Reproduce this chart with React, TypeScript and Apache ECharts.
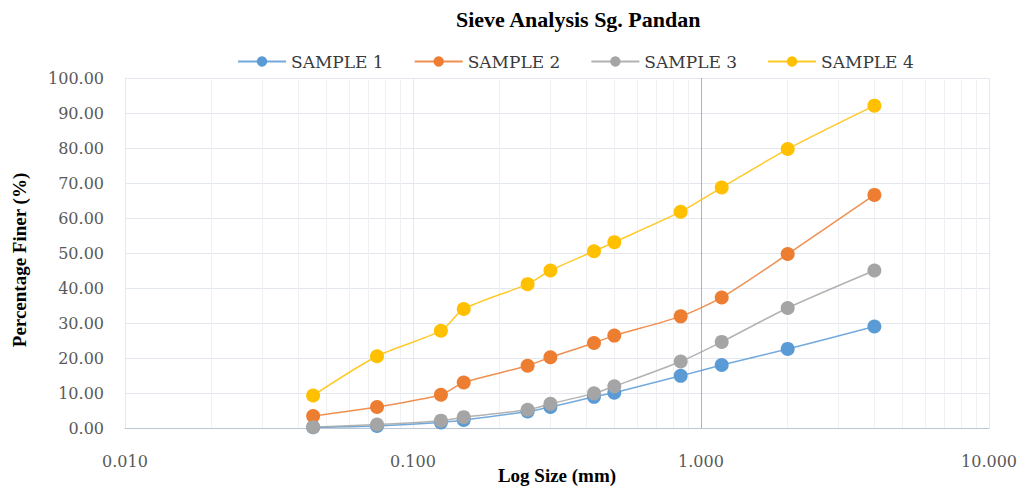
import React, { useEffect, useRef } from "react";
import * as echarts from "echarts";

// Sieve opening sizes (mm) and percentage finer for each sample
const sieveSizes = [0.045, 0.075, 0.125, 0.15, 0.25, 0.3, 0.425, 0.5, 0.85, 1.18, 2.0, 4.0];
const sample1 = [0.2, 0.6, 1.6, 2.3, 4.7, 6.0, 8.9, 10.1, 14.9, 18.0, 22.6, 29.0];
const sample2 = [3.4, 6.0, 9.5, 13.0, 17.8, 20.2, 24.3, 26.4, 31.9, 37.3, 49.7, 66.6];
const sample3 = [0.2, 1.0, 2.1, 3.1, 5.2, 6.9, 9.9, 11.9, 19.0, 24.6, 34.3, 45.0];
const sample4 = [9.3, 20.5, 27.8, 34.0, 41.1, 45.0, 50.5, 53.1, 61.8, 68.7, 79.7, 92.1];

const seriesNames = ["SAMPLE 1", "SAMPLE 2", "SAMPLE 3", "SAMPLE 4"];
const seriesColors = ["#5B9BD5", "#ED7D31", "#A5A5A5", "#FFC000"];
const seriesValues = [sample1, sample2, sample3, sample4];

// Decades of the log axis; minor gridlines sit at 2..9 times each decade start
const decadeStarts = [0.01, 0.1, 1];
const minorMultiples = [2, 3, 4, 5, 6, 7, 8, 9];

const serif = "'DejaVu Serif', serif";
const boldSerif = "'Liberation Serif', 'Times New Roman', serif";

export default function App() {
  const ref = useRef<HTMLDivElement>(null);

  useEffect(() => {
    if (!ref.current) return;
    const chart = echarts.init(ref.current, undefined, { renderer: "svg" });

    const minorLines: { xAxis: number }[] = [];
    decadeStarts.forEach((d) =>
      minorMultiples.forEach((m) => minorLines.push({ xAxis: +(d * m).toPrecision(3) }))
    );

    const dataSeries = seriesNames.map((name, i) => ({
      name,
      type: "line" as const,
      data: sieveSizes.map((s, j) => [s, seriesValues[i][j]]),
      symbol: "circle",
      symbolSize: 14,
      smooth: 0.25,
      z: 3,
      itemStyle: { color: seriesColors[i] },
      lineStyle: { color: seriesColors[i], width: 1.5, opacity: 0.85 },
    }));

    chart.setOption({
      animation: false,
      backgroundColor: "#ffffff",
      title: {
        text: "Sieve Analysis Sg. Pandan",
        left: 451,
        top: 3,
        textStyle: { fontFamily: boldSerif, fontWeight: "bold", fontSize: 22, color: "#000000" },
      },
      legend: {
        data: seriesNames,
        left: 232,
        top: 48,
        itemWidth: 48,
        itemHeight: 13,
        itemGap: 30,
        textStyle: { fontFamily: serif, fontSize: 17, color: "#3a3a3a" },
      },
      graphic: [
        {
          type: "text",
          x: 19,
          y: 260,
          rotation: Math.PI / 2,
          style: {
            text: "Percentage Finer (%)",
            fontFamily: boldSerif,
            fontWeight: "bold",
            fontSize: 19,
            fill: "#000000",
            textAlign: "center",
            textVerticalAlign: "middle",
          },
        },
      ],
      grid: { left: 125, right: 32, top: 78, bottom: 63, outerBoundsMode: "none" },
      xAxis: {
        type: "log",
        logBase: 10,
        min: 0.01,
        max: 10,
        name: "Log Size (mm)",
        nameLocation: "middle",
        nameGap: 38,
        nameMoveOverlap: false,
        nameTextStyle: { fontFamily: boldSerif, fontWeight: "bold", fontSize: 19, color: "#000000" },
        axisLine: { show: true, onZero: false, lineStyle: { color: "#BFC6D3", width: 1 } },
        axisTick: { show: false },
        axisLabel: {
          margin: 25,
          fontFamily: serif,
          fontSize: 16,
          color: "#595959",
          formatter: (v: number) => v.toFixed(3),
        },
        splitLine: { show: true, lineStyle: { color: "#E3E7EE", width: 1 } },
      },
      yAxis: {
        type: "value",
        min: 0,
        max: 100,
        interval: 10,
        axisLine: { show: false },
        axisTick: { show: false },
        axisLabel: {
          margin: 21,
          fontFamily: serif,
          fontSize: 16,
          color: "#595959",
          formatter: (v: number) => v.toFixed(2),
        },
        splitLine: { show: true, lineStyle: { color: "#E3E7EE", width: 1 } },
      },
      series: [
        {
          name: "minor-grid",
          type: "line",
          data: [],
          silent: true,
          z: 1,
          markLine: {
            silent: true,
            z: 1,
            symbol: ["none", "none"],
            label: { show: false },
            lineStyle: { type: "solid", color: "#EEF0F4", width: 1 },
            emphasis: { disabled: true },
            data: minorLines,
          },
        },
        {
          name: "value-axis-line",
          type: "line",
          data: [],
          silent: true,
          z: 2,
          markLine: {
            silent: true,
            z: 2,
            symbol: ["none", "none"],
            label: { show: false },
            lineStyle: { type: "solid", color: "#A9B2C3", width: 1 },
            emphasis: { disabled: true },
            data: [{ xAxis: 1 }],
          },
        },
        ...dataSeries,
      ],
    });

    return () => chart.dispose();
  }, []);

  return (
    <div
      ref={ref}
      style={{ position: "fixed", left: 0, top: 0, width: 1021, height: 491, background: "#fff" }}
    />
  );
}
